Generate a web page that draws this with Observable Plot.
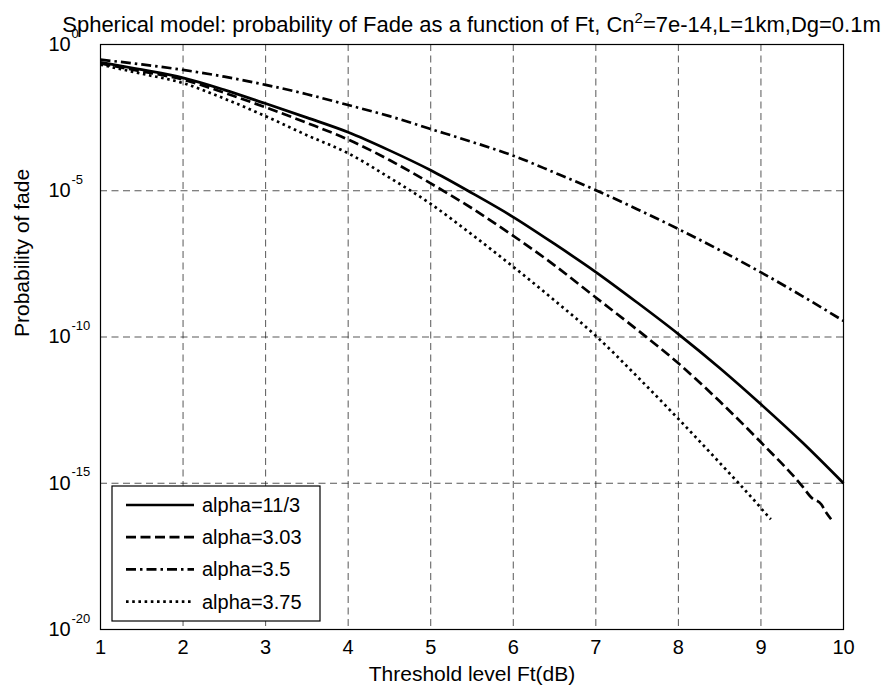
<!DOCTYPE html>
<html><head><meta charset="utf-8">
<script src="https://cdn.jsdelivr.net/npm/d3@7"></script>
<script src="https://cdn.jsdelivr.net/npm/@observablehq/plot@0.6"></script>
<style>body{margin:0;background:#fff}</style>
</head><body><div id="chart"></div>
<script>
// ---- data (values are log10 of the probability of fade) ----
const ftFull = [1,1.5,2,2.5,3,3.5,4,4.5,5,5.5,6,6.5,7,7.5,8,8.5,9,9.5,10];
const log10P_alpha11_3 = [-0.61,-0.86,-1.14,-1.55,-2.02,-2.5,-3.0,-3.62,-4.3,-5.08,-5.9,-6.82,-7.78,-8.82,-9.9,-11.06,-12.3,-13.6,-15.0];

const ft_alpha303 = [1,1.5,2,2.5,3,3.5,4,4.5,5,5.5,6,6.5,7,7.5,8,8.5,9,9.5,9.61,9.73,9.79,9.85];
const log10P_alpha303 = [-0.65,-0.92,-1.2,-1.65,-2.15,-2.68,-3.25,-3.95,-4.75,-5.6,-6.54,-7.55,-8.65,-9.75,-10.9,-12.2,-13.6,-15.1,-15.49,-15.72,-16.0,-16.23];

const log10P_alpha35 = [-0.52,-0.68,-0.87,-1.1,-1.38,-1.7,-2.07,-2.45,-2.89,-3.33,-3.8,-4.38,-4.98,-5.63,-6.31,-7.03,-7.79,-8.6,-9.45];

const ft_alpha375 = [1,1.5,2,2.5,3,3.5,4,4.5,5,5.5,6,6.5,7,7.5,8,8.5,9,9.06,9.12];
const log10P_alpha375 = [-0.69,-1.0,-1.32,-1.85,-2.45,-3.1,-3.72,-4.55,-5.45,-6.5,-7.6,-8.75,-9.96,-11.35,-12.8,-14.3,-15.85,-16.05,-16.23];

const seriesLabels = ["alpha=11/3","alpha=3.03","alpha=3.5","alpha=3.75"];
const xTicks = [1,2,3,4,5,6,7,8,9,10];
const yTicks = [1,1e-5,1e-10,1e-15,1e-20];
const yTickExponents = ["0","-5","-10","-15","-20"];
const titleMain = "Spherical model: probability of Fade as a function of Ft, Cn";
const titleSup = "2";
const titleRest = "=7e-14,L=1km,Dg=0.1m";
const xLabel = "Threshold level Ft(dB)";
const yLabel = "Probability of fade";

// ---- build ----
const dashes = [null, "10,4.5", "10,4,2.5,4", "2.6,3.6"];
const series = [
  {ft: ftFull, lg: log10P_alpha11_3},
  {ft: ft_alpha303, lg: log10P_alpha303},
  {ft: ftFull, lg: log10P_alpha35},
  {ft: ft_alpha375, lg: log10P_alpha375}
].map((s,k)=>({label: seriesLabels[k], dash: dashes[k], rows: s.ft.map((f,i)=>({ft:f, p: Math.pow(10, s.lg[i])}))}));

const font = "'Liberation Sans', Arial, Helvetica, sans-serif";
const gridStyle = {stroke:"#222", strokeOpacity:0.85, strokeWidth:0.9, strokeDasharray:"7,4.5"};
const lineW = 2.7;

const plot = Plot.plot({
  width: 891, height: 691,
  marginLeft: 100, marginRight: 48, marginTop: 44, marginBottom: 62,
  style: {fontFamily: font, fontSize: "20px", background: "#fff", color: "#000", overflow: "visible"},
  x: {domain: [1,10], ticks: xTicks, tickSize: 0, tickPadding: 10, label: null, tickFormat: d=>String(d)},
  y: {type: "log", domain: [1e-20, 1], axis: null},
  marks: [
    Plot.gridX(xTicks, gridStyle),
    Plot.gridY(yTicks, gridStyle),
    ...series.map(s => Plot.line(s.rows, {x:"ft", y:"p", stroke:"#000", strokeWidth:lineW,
        strokeDasharray: s.dash || undefined, strokeLinecap:"butt", strokeLinejoin:"round", curve:"monotone-x"})),
    Plot.frame({stroke:"#000", strokeWidth:1.2}),
    Plot.text(yTicks, {y: d=>d, text: ()=>"10", frameAnchor:"left", dx:-52, textAnchor:"start", fontSize:20}),
    Plot.text(yTicks, {y: d=>d, text: (d,i)=>yTickExponents[i], frameAnchor:"left", dx:-29, dy:-11, textAnchor:"start", fontSize:13}),
    Plot.text([xLabel], {text: d=>d, frameAnchor:"bottom", dy:51, fontSize:21}),
    Plot.text([yLabel], {text: d=>d, frameAnchor:"left", dx:-78, rotate:-90, fontSize:21})
  ]
});

// title with superscript and in-axes legend (layout overlays)
const svg = d3.select(plot);
const t = svg.append("text").attr("x", 100 + (891-100-48)/2).attr("y", 32)
  .attr("text-anchor","middle").attr("font-size",22).attr("font-family",font).attr("fill","#000");
t.append("tspan").text(titleMain);
t.append("tspan").attr("dy",-9).attr("font-size",15).text(titleSup);
t.append("tspan").attr("dy",9).text(titleRest);

const lg = svg.append("g").attr("font-family",font).attr("font-size",20).attr("text-anchor","start");
lg.append("rect").attr("x",112).attr("y",486).attr("width",208).attr("height",135)
  .attr("fill","#fff").attr("stroke","#000").attr("stroke-width",1.2);
series.forEach((s,i)=>{
  const y = 505 + i*32.2;
  const ln = lg.append("line").attr("x1",126).attr("x2",194).attr("y1",y).attr("y2",y)
    .attr("stroke","#000").attr("stroke-width",lineW).attr("stroke-linecap","butt");
  if (s.dash) ln.attr("stroke-dasharray", s.dash);
  lg.append("text").attr("x",202).attr("y",y).attr("dy","0.35em").attr("text-anchor","start").attr("fill","#000").text(s.label);
});

document.getElementById("chart").appendChild(plot);
</script>
</body></html>
